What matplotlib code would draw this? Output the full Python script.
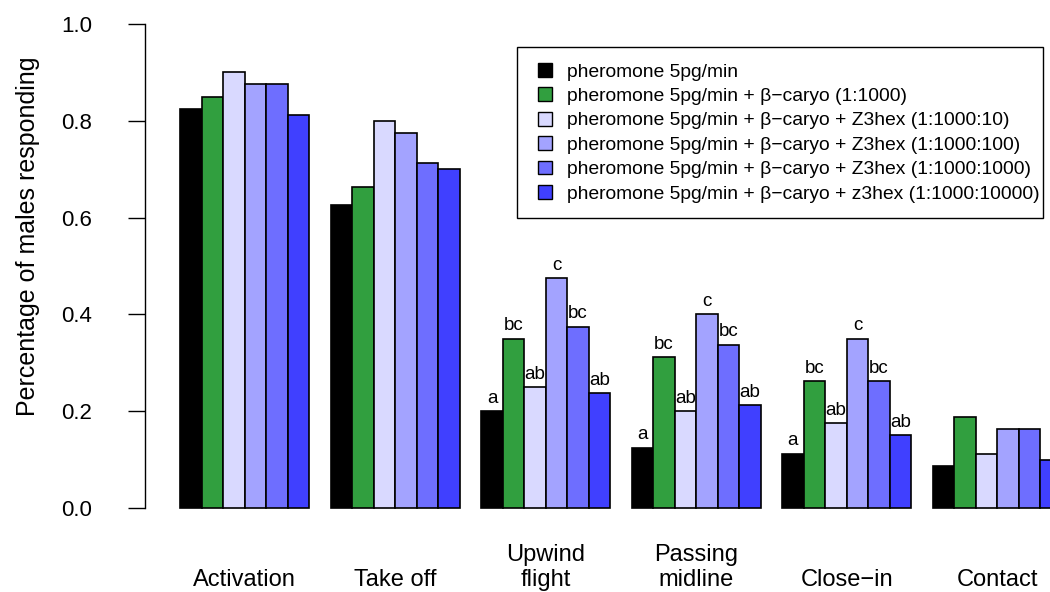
import matplotlib
matplotlib.use("Agg")
import matplotlib.pyplot as plt
import matplotlib.transforms as mtransforms
from matplotlib.patches import Patch, Rectangle

plt.rcParams['font.family'] = ['Liberation Sans', 'DejaVu Sans']

stages = ["Activation", "Take off", "Upwind\nflight", "Passing\nmidline", "Close\u2212in", "Contact"]
treatments = [
    "pheromone 5pg/min",
    "pheromone 5pg/min + \u03b2\u2212caryo (1:1000)",
    "pheromone 5pg/min + \u03b2\u2212caryo + Z3hex (1:1000:10)",
    "pheromone 5pg/min + \u03b2\u2212caryo + Z3hex (1:1000:100)",
    "pheromone 5pg/min + \u03b2\u2212caryo + Z3hex (1:1000:1000)",
    "pheromone 5pg/min + \u03b2\u2212caryo + z3hex (1:1000:10000)",
]
colors = ["#000000", "#319F3F", "#D9D9FF", "#A3A3FF", "#6E6EFF", "#4040FF"]

# values[treatment][stage]
ph = [0.825, 0.625, 0.200, 0.125, 0.1125, 0.0875]
ph_car = [0.850, 0.6625, 0.350, 0.3125, 0.2625, 0.1875]
z10 = [0.900, 0.800, 0.250, 0.200, 0.175, 0.1125]
z100 = [0.875, 0.775, 0.475, 0.400, 0.350, 0.1625]
z1000 = [0.875, 0.7125, 0.375, 0.3375, 0.2625, 0.1625]
z10000 = [0.8125, 0.700, 0.2375, 0.2125, 0.150, 0.100]
values = [ph, ph_car, z10, z100, z1000, z10000]

# significance letters per stage (one per treatment)
letters = [
    ["", "", "", "", "", ""],
    ["", "", "", "", "", ""],
    ["a", "bc", "ab", "c", "bc", "ab"],
    ["a", "bc", "ab", "c", "bc", "ab"],
    ["a", "bc", "ab", "c", "bc", "ab"],
    ["", "", "", "", "", ""],
]

W, H = 1050, 592
fig = plt.figure(figsize=(W / 100, H / 100), dpi=100)
ax_left = 145 / W
ax_bottom = 1 - 527.4 / H
ax = fig.add_axes([ax_left, ax_bottom, (1097 - 145) / W, (527.4 - 4.6) / H])

n_t = len(treatments)
n_s = len(stages)
group_step = n_t + 1
for t in range(n_t):
    xs = [1 + s * group_step + t + 0.5 for s in range(n_s)]
    ax.bar(xs, values[t], width=1.0, color=colors[t], edgecolor="black",
           linewidth=1.2, label=treatments[t])
    for s in range(n_s):
        if letters[s][t]:
            ax.text(xs[s], values[t][s] + 0.017, letters[s][t], ha="center",
                    va="baseline", fontsize=13.5)

ax.set_xlim(-0.64, 43.64)
ax.set_ylim(-0.04, 1.04)
for side in ["top", "right", "bottom"]:
    ax.spines[side].set_visible(False)
ax.spines["left"].set_bounds(0, 1)
ax.spines["left"].set_linewidth(1.0)
ax.set_xticks([])
ax.set_yticks([0.0, 0.2, 0.4, 0.6, 0.8, 1.0])
ax.set_yticklabels(["0.0", "0.2", "0.4", "0.6", "0.8", "1.0"])
ax.tick_params(axis="y", length=12, width=1.0, pad=26, labelsize=16)

trans = mtransforms.blended_transform_factory(ax.transData, fig.transFigure)
for s in range(n_s):
    cx = 1 + s * group_step + n_t / 2
    ax.text(cx, 1 - 591 / H, stages[s], transform=trans, ha="center",
            va="bottom", fontsize=17, multialignment="center", linespacing=1.15,
            clip_on=False)

fig.text(28 / W, 1 - 236 / H, "Percentage of males responding", rotation=90,
         ha="center", va="center", fontsize=18)

handles = [Patch(facecolor=colors[t], edgecolor="black", linewidth=1.0) for t in range(n_t)]
leg = ax.legend(handles, treatments, loc="upper left",
                bbox_to_anchor=(538 / W, 1 - 63 / H), bbox_transform=fig.transFigure,
                borderaxespad=0, frameon=False,
                fontsize=13.9, handlelength=0.72, handleheight=0.72,
                handletextpad=0.78, labelspacing=0.35, borderpad=0)
fig.patches.append(Rectangle((517 / W, 1 - 218 / H), (1043 - 517) / W, (218 - 47) / H,
                             transform=fig.transFigure, fill=False,
                             edgecolor="black", linewidth=1.0))

fig.savefig("out.png", dpi=100)
